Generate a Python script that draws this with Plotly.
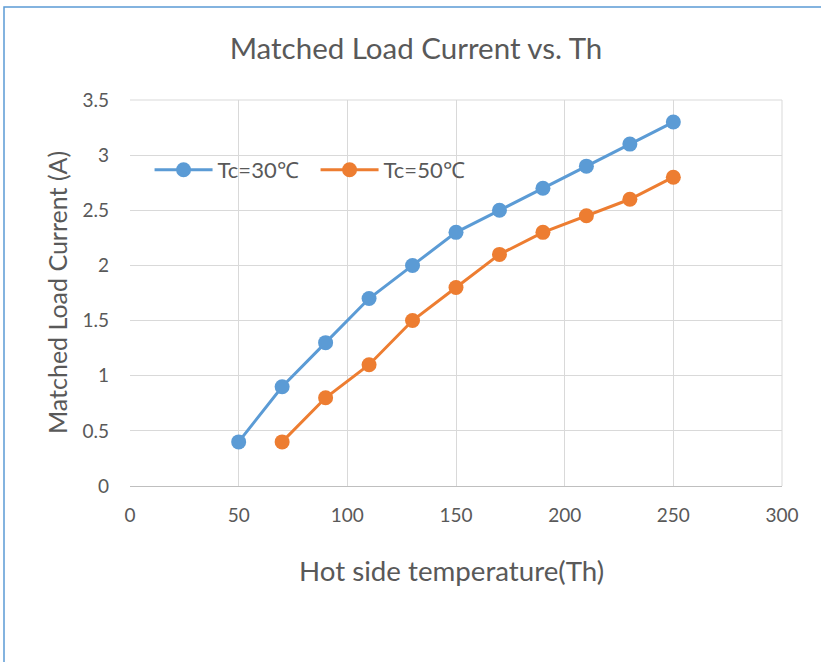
import plotly.graph_objects as go

th_30 = [50, 70, 90, 110, 130, 150, 170, 190, 210, 230, 250]
cur_30 = [0.4, 0.9, 1.3, 1.7, 2.0, 2.3, 2.5, 2.7, 2.9, 3.1, 3.3]
th_50 = [70, 90, 110, 130, 150, 170, 190, 210, 230, 250]
cur_50 = [0.4, 0.8, 1.1, 1.5, 1.8, 2.1, 2.3, 2.45, 2.6, 2.8]
names = ["Tc=30℃", "Tc=50℃"]
colors = ["#5B9BD5", "#ED7D31"]

FONT = "Lato"
GRAY = "#595959"

fig = go.Figure()
for x, y, n, c in [(th_30, cur_30, names[0], colors[0]), (th_50, cur_50, names[1], colors[1])]:
    fig.add_trace(go.Scatter(x=x, y=y, name=n, mode="lines+markers",
                             line=dict(color=c, width=3),
                             marker=dict(color=c, size=15)))

fig.update_layout(
    width=821, height=662,
    margin=dict(l=130, r=39, t=100, b=176),
    paper_bgcolor="white", plot_bgcolor="white",
    font=dict(family=FONT, color=GRAY, size=19),
    title=dict(text="Matched Load Current vs. Th", x=416 / 821, xanchor="center",
               y=1 - 49 / 662, yanchor="middle",
               font=dict(family=FONT, size=29.5, color=GRAY)),
    showlegend=True,
    legend=dict(orientation="h", x=0.03, y=0.8187, xanchor="left", yanchor="middle",
                bgcolor="rgba(0,0,0,0)", font=dict(size=22, color=GRAY),
                itemwidth=58, entrywidth=93),
    xaxis=dict(range=[0, 300], tick0=0, dtick=50, showgrid=True, gridcolor="#D9D9D9",
               gridwidth=1, zeroline=False, showline=True, linecolor="#BFBFBF",
               ticks="", ticklabelstandoff=12,
               tickfont=dict(size=19, color=GRAY)),
    yaxis=dict(range=[0, 3.5], tick0=0, dtick=0.5, showgrid=True, gridcolor="#D9D9D9",
               gridwidth=1, zeroline=False, showline=False,
               ticks="", ticklabelstandoff=20,
               tickfont=dict(size=19, color=GRAY)),
    annotations=[
        dict(text="Hot side temperature(Th)", xref="paper", yref="paper",
             x=(451 - 130) / 652, y=-(570 - 486) / 386, xanchor="center", yanchor="middle",
             showarrow=False, font=dict(size=27.7, color=GRAY)),
        dict(text="Matched Load Current (A)", xref="paper", yref="paper",
             x=(57 - 130) / 652, y=(486 - 293) / 386, xanchor="center", yanchor="middle",
             textangle=-90, showarrow=False, font=dict(size=25, color=GRAY)),
    ],
    shapes=[
        dict(type="rect", xref="paper", yref="paper",
             x0=(4 - 130) / 652, x1=(830 - 130) / 652,
             y0=-(670 - 486) / 386, y1=1 + (100 - 7) / 386,
             line=dict(color="#5B9BD5", width=1.5), layer="below"),
        dict(type="line", xref="paper", yref="paper", x0=1, x1=1, y0=0, y1=1,
             line=dict(color="#D9D9D9", width=1)),
        dict(type="line", xref="paper", yref="paper", x0=0, x1=1, y0=1, y1=1,
             line=dict(color="#D9D9D9", width=1)),
    ],
)

fig.write_html("out.html", config={"displayModeBar": False},
               post_script="document.body.style.margin='0';")
